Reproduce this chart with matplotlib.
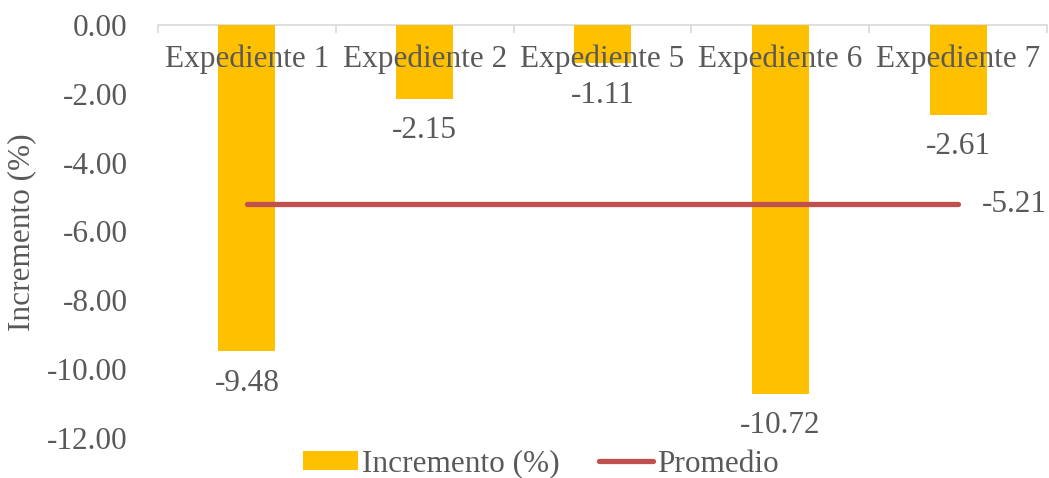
import matplotlib
matplotlib.use("Agg")
import matplotlib.pyplot as plt
from matplotlib.lines import Line2D
from matplotlib.patches import Patch
import numpy as np

# data
expedientes = ["Expediente 1", "Expediente 2", "Expediente 5", "Expediente 6", "Expediente 7"]
incremento = [-9.48, -2.15, -1.11, -10.72, -2.61]
promedio = [-5.21, -5.21, -5.21, -5.21, -5.21]

gold = "#FFC000"
red = "#C0504D"
grey = "#595959"

plt.rcParams["font.family"] = ["Liberation Serif", "DejaVu Serif"]
plt.rcParams["font.size"] = 22.5

fig = plt.figure(figsize=(10.49, 4.78), dpi=100)
ax = fig.add_axes([158 / 1049, 1 - 438 / 478, (1047 - 158) / 1049, (438 - 25) / 478])

x = np.arange(len(expedientes))
ax.bar(x, incremento, width=0.32, color=gold, zorder=2)
ax.plot(x, promedio, color=red, lw=3.8, solid_capstyle="round", zorder=3)

for xi, v in zip(x, incremento):
    ax.annotate(f"{v:.2f}", (xi, v), xytext=(0, -32), textcoords="offset pixels",
                ha="center", va="center", color=grey)
ax.annotate(f"{promedio[-1]:.2f}", (x[-1], promedio[-1]), xytext=(24, 0),
            textcoords="offset pixels", ha="left", va="center", color=grey)

ax.set_xlim(-0.5, len(expedientes) - 0.5)
ax.set_ylim(-12, 0)
ax.set_yticks(np.arange(-12, 1, 2))
ax.set_yticklabels([f"{t:.2f}" for t in np.arange(-12, 1, 2)])
ax.set_axisbelow(False)

for s in ["top", "right", "left"]:
    ax.spines[s].set_visible(False)
ax.spines["bottom"].set_position(("data", 0))
ax.spines["bottom"].set_color("#D9D9D9")
ax.spines["bottom"].set_linewidth(1.2)
ax.spines["bottom"].set_zorder(1)

ax.set_xticks(x)
ax.set_xticklabels(expedientes)
ax.set_xticks(np.arange(-0.5, len(expedientes)), minor=True)
ax.tick_params(axis="x", which="major", length=0, pad=14, colors=grey)
ax.tick_params(axis="x", which="minor", length=6, width=1.2, color="#D9D9D9")
ax.tick_params(axis="y", length=0, pad=22, colors=grey)
for lab in ax.get_yticklabels():
    lab.set_color(grey)

fig.text(22 / 1049, 1 - 232 / 478, "Incremento (%)", rotation=90, ha="center", va="center", color=grey)

handles = [Patch(facecolor=gold, edgecolor="none"),
           Line2D([0], [0], color=red, lw=3.8, solid_capstyle="round")]
fig.legend(handles, ["Incremento (%)", "Promedio"], loc="center", bbox_to_anchor=(541 / 1049, 1 - 464 / 478),
           ncol=2, frameon=False, labelcolor=grey, handlelength=1.75, handletextpad=0.12, columnspacing=1.25,
           borderpad=0, handleheight=0.55)

fig.savefig("out.png", dpi=100)
